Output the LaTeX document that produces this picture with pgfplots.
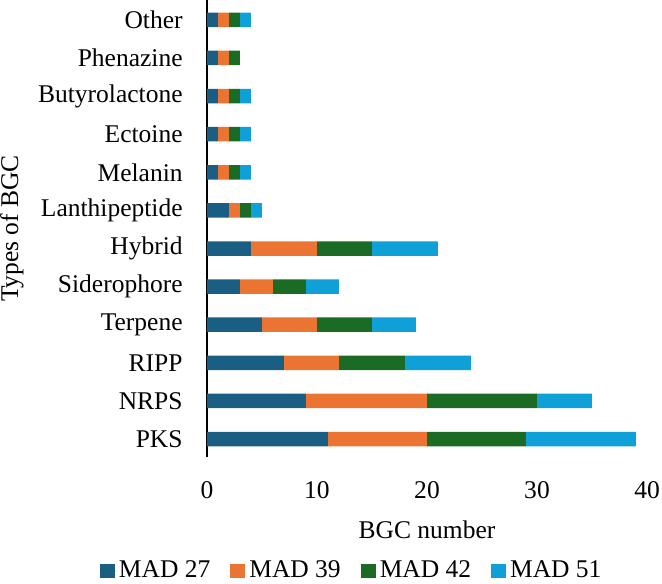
\documentclass[border=0pt]{standalone}
\usepackage{fontspec}
\setmainfont{Liberation Serif}
\usepackage{pgfplots}
\pgfplotsset{compat=1.18}
\definecolor{cA}{HTML}{1B5E83}
\definecolor{cB}{HTML}{EC7432}
\definecolor{cC}{HTML}{1B6B25}
\definecolor{cD}{HTML}{0FA0D8}
\begin{document}
\begin{tikzpicture}
\useasboundingbox (-103.5pt,-63pt) rectangle (227.5pt,228.5pt);
\begin{axis}[
  at={(0pt,0pt)}, anchor=south west,
  scale only axis, width=220pt, height=228.5pt,
  font=\fontsize{12.75}{15}\selectfont,
  /pgf/number format/assume math mode=true,
  xbar stacked, bar width=7.25pt,
  xmin=0, xmax=40, ymin=-0.47, ymax=11.52,
  xtick={0,10,20,30,40},
  ytick={0,...,11},
  yticklabels={PKS,NRPS,RIPP,Terpene,Siderophore,Hybrid,Lanthipeptide,Melanin,Ectoine,Butyrolactone,Phenazine,Other},
  axis lines*=left,
  x axis line style={draw=none},
  y axis line style={line width=1pt, black},
  major tick length=0pt,
  xticklabel style={anchor=center, inner sep=0pt, yshift=-16.5pt},
  yticklabel style={anchor=east, inner sep=0pt, xshift=-12pt},
  xlabel={BGC number},
  every axis x label/.style={at={(axis description cs:0.5,0)}, anchor=center, inner sep=0pt, yshift=-36.5pt},
  ylabel={Types of BGC},
  every axis y label/.style={at={(axis description cs:-0.4435,0.5)}, rotate=90, anchor=center, inner sep=0pt},
  legend columns=4,
  legend style={at={(axis description cs:0.329,0)}, anchor=center, yshift=-57pt, draw=none, fill=none, inner sep=0pt, nodes={inner sep=1pt}, /tikz/every even column/.append style={column sep=9pt}},
  legend image code/.code={\fill[#1] (0pt,-3.5pt) rectangle (7.5pt,3.5pt); \path (0pt,0pt) -- (8.5pt,0pt);},
]
\addplot[fill=cA, draw=none] coordinates {(11,0) (9,1) (7,2) (5,3) (3,4) (4,5) (2,6) (1,7) (1,8) (1,9) (1,10) (1,11)};
\addplot[fill=cB, draw=none] coordinates {(9,0) (11,1) (5,2) (5,3) (3,4) (6,5) (1,6) (1,7) (1,8) (1,9) (1,10) (1,11)};
\addplot[fill=cC, draw=none] coordinates {(9,0) (10,1) (6,2) (5,3) (3,4) (5,5) (1,6) (1,7) (1,8) (1,9) (1,10) (1,11)};
\addplot[fill=cD, draw=none] coordinates {(10,0) (5,1) (6,2) (4,3) (3,4) (6,5) (1,6) (1,7) (1,8) (1,9) (0,10) (1,11)};
\legend{MAD 27, MAD 39, MAD 42, MAD 51}
\end{axis}
\end{tikzpicture}
\end{document}
